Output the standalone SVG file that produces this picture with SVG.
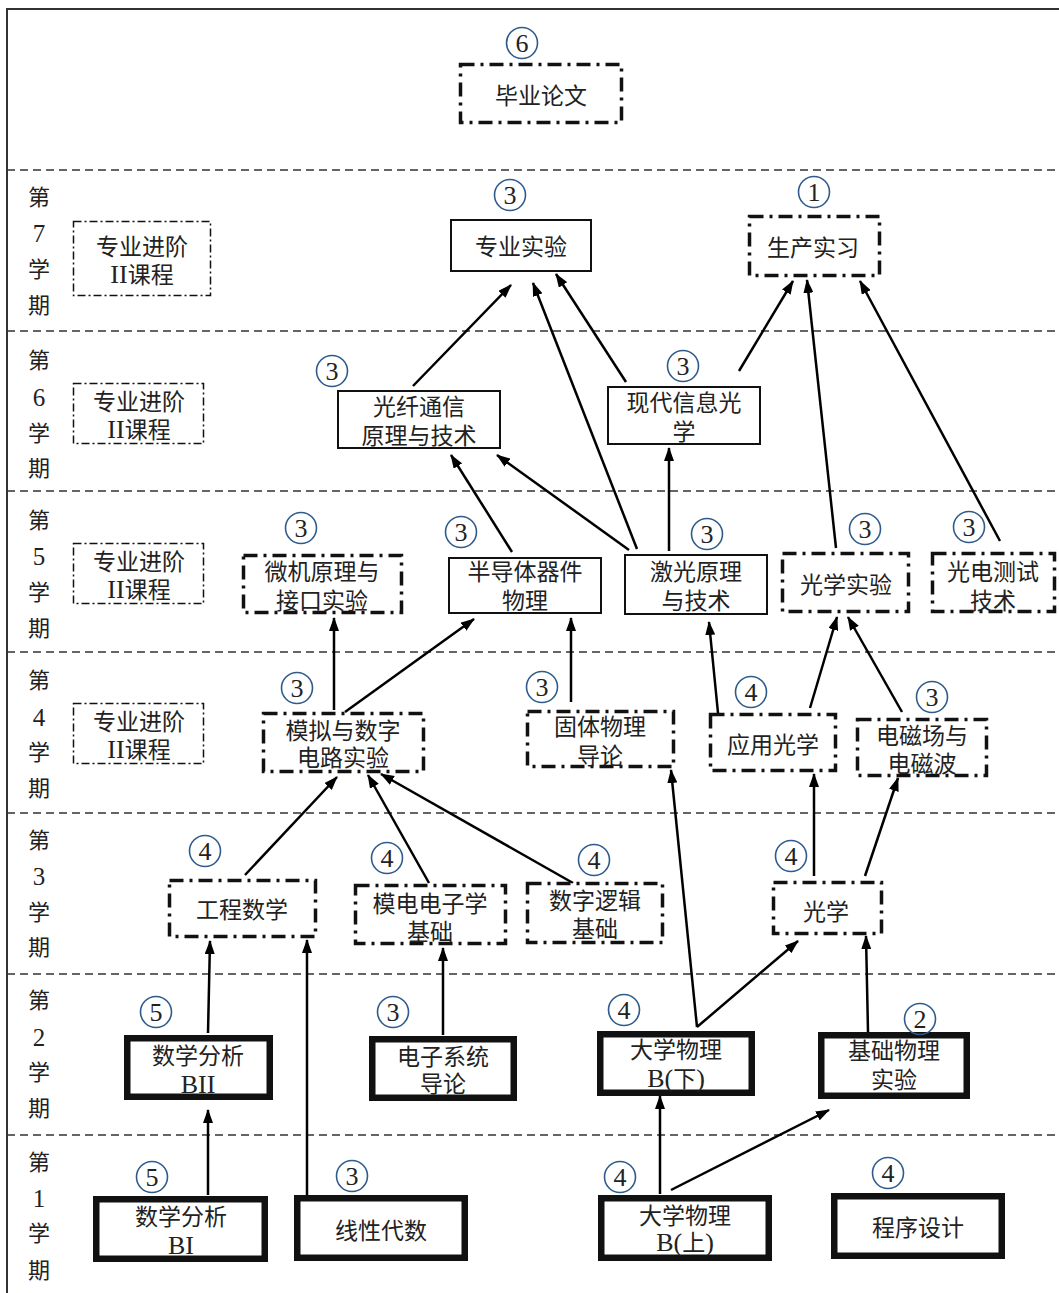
<svg xmlns="http://www.w3.org/2000/svg" width="1059" height="1293" viewBox="0 0 1059 1293">
  <style>
    .frame{stroke:#333;stroke-width:2;fill:none}
    .sep{stroke:#333;stroke-width:1.6;stroke-dasharray:8 5;fill:none}
    .box{fill:#fff;stroke:#111}
    .solid{stroke-width:2}
    .thick{stroke-width:6.5}
    .dd{stroke-width:3.5;stroke-dasharray:14 6 3 6}
    .ddthin{stroke-width:1.5;stroke-dasharray:8 3 2 3}
    text{font-family:"Liberation Serif","Noto Sans CJK SC",serif;fill:#222;text-anchor:middle}
    .lbl{font-size:23px}
    .sem{font-size:22px}
    .num{font-size:25px}
    .lat{font-size:26px}
    .badge circle{fill:none;stroke:#2e5b8c;stroke-width:1.6}
    .badge text{font-size:26px}
    .edge{stroke:#000;stroke-width:2.5;fill:none;marker-end:url(#ah)}
  </style>
  <defs>
    <marker id="ah" markerUnits="userSpaceOnUse" markerWidth="14" markerHeight="10" viewBox="0 0 14 10" refX="13" refY="5" orient="auto">
      <path d="M0,0 L14,5 L0,10 z" fill="#000"/>
    </marker>
  </defs>

  <!-- outer frame and semester bands -->
  <path class="frame" d="M7,1293 V9 H1059"/>
  <g id="separators">
    <line class="sep" x1="7" y1="170" x2="1059" y2="170"/>
    <line class="sep" x1="7" y1="331" x2="1059" y2="331"/>
    <line class="sep" x1="7" y1="491" x2="1059" y2="491"/>
    <line class="sep" x1="7" y1="652" x2="1059" y2="652"/>
    <line class="sep" x1="7" y1="813" x2="1059" y2="813"/>
    <line class="sep" x1="7" y1="974" x2="1059" y2="974"/>
    <line class="sep" x1="7" y1="1135" x2="1059" y2="1135"/>
  </g>

  <!-- semester labels -->
  <g id="semester-labels">
    <text class="sem" x="39" y="205">第</text><text class="num" x="39" y="242">7</text><text class="sem" x="39" y="277">学</text><text class="sem" x="39" y="313">期</text>
    <text class="sem" x="39" y="368">第</text><text class="num" x="39" y="406">6</text><text class="sem" x="39" y="441">学</text><text class="sem" x="39" y="476">期</text>
    <text class="sem" x="39" y="528">第</text><text class="num" x="39" y="565">5</text><text class="sem" x="39" y="600">学</text><text class="sem" x="39" y="636">期</text>
    <text class="sem" x="39" y="688">第</text><text class="num" x="39" y="726">4</text><text class="sem" x="39" y="760">学</text><text class="sem" x="39" y="796">期</text>
    <text class="sem" x="39" y="848">第</text><text class="num" x="39" y="885">3</text><text class="sem" x="39" y="920">学</text><text class="sem" x="39" y="955">期</text>
    <text class="sem" x="39" y="1008">第</text><text class="num" x="39" y="1046">2</text><text class="sem" x="39" y="1080">学</text><text class="sem" x="39" y="1116">期</text>
    <text class="sem" x="39" y="1170">第</text><text class="num" x="39" y="1207">1</text><text class="sem" x="39" y="1241">学</text><text class="sem" x="39" y="1278">期</text>
  </g>

  <!-- elective placeholders -->
  <g id="elective-7"><rect class="box ddthin" x="73.5" y="221.5" width="137" height="74"/><text class="lbl" x="142" y="255">专业进阶</text><text class="lbl" x="142" y="283"><tspan class="lat">II</tspan>课程</text></g>
  <g id="elective-6"><rect class="box ddthin" x="73.5" y="383.5" width="130" height="60"/><text class="lbl" x="139" y="410">专业进阶</text><text class="lbl" x="139" y="438"><tspan class="lat">II</tspan>课程</text></g>
  <g id="elective-5"><rect class="box ddthin" x="73.5" y="543.5" width="130" height="60"/><text class="lbl" x="139" y="570">专业进阶</text><text class="lbl" x="139" y="598"><tspan class="lat">II</tspan>课程</text></g>
  <g id="elective-4"><rect class="box ddthin" x="73.5" y="703.5" width="130" height="60"/><text class="lbl" x="139" y="730">专业进阶</text><text class="lbl" x="139" y="758"><tspan class="lat">II</tspan>课程</text></g>

  <!-- prerequisite arrows -->
  <g id="connectors">
    <line class="edge" x1="413" y1="386" x2="511" y2="285"/>
    <line class="edge" x1="637" y1="549" x2="533" y2="283"/>
    <line class="edge" x1="626" y1="382" x2="556" y2="274"/>
    <line class="edge" x1="739" y1="371" x2="793" y2="281"/>
    <line class="edge" x1="836" y1="548" x2="807" y2="280"/>
    <line class="edge" x1="1000" y1="541" x2="860" y2="281"/>
    <line class="edge" x1="512" y1="552" x2="451" y2="455"/>
    <line class="edge" x1="629" y1="550" x2="497" y2="455"/>
    <line class="edge" x1="669" y1="551" x2="669" y2="448"/>
    <line class="edge" x1="334" y1="710" x2="334" y2="618"/>
    <line class="edge" x1="345" y1="712" x2="474" y2="619"/>
    <line class="edge" x1="571" y1="702" x2="571" y2="618"/>
    <line class="edge" x1="718" y1="713" x2="709" y2="622"/>
    <line class="edge" x1="810" y1="708" x2="837" y2="617"/>
    <line class="edge" x1="902" y1="712" x2="848" y2="617"/>
    <line class="edge" x1="245" y1="875" x2="337" y2="777"/>
    <line class="edge" x1="429" y1="883" x2="368" y2="775"/>
    <line class="edge" x1="573" y1="883" x2="381" y2="774"/>
    <line class="edge" x1="697" y1="1027" x2="671" y2="770"/>
    <line class="edge" x1="697" y1="1027" x2="798" y2="941"/>
    <line class="edge" x1="814" y1="876" x2="814" y2="774"/>
    <line class="edge" x1="865" y1="876" x2="898" y2="778"/>
    <line class="edge" x1="208" y1="1033" x2="210" y2="941"/>
    <line class="edge" x1="307" y1="1195" x2="307" y2="940"/>
    <line class="edge" x1="443" y1="1035" x2="443" y2="948"/>
    <line class="edge" x1="868" y1="1032" x2="866" y2="936"/>
    <line class="edge" x1="208" y1="1195" x2="208" y2="1110"/>
    <line class="edge" x1="660" y1="1194" x2="660" y2="1096"/>
    <line class="edge" x1="671" y1="1190" x2="829" y2="1110"/>
  </g>

  <!-- thesis -->
  <g id="thesis"><rect class="box dd" x="460.5" y="64.5" width="161" height="58"/><text class="lbl" x="541" y="104">毕业论文</text>
    <g class="badge"><circle cx="522" cy="43" r="15.5"/><text x="522" y="52">6</text></g></g>

  <!-- semester 7 -->
  <g id="major-lab"><rect class="box solid" x="451" y="220" width="140" height="51"/><text class="lbl" x="521" y="255">专业实验</text>
    <g class="badge"><circle cx="510" cy="195" r="15.5"/><text x="510" y="204">3</text></g></g>
  <g id="internship"><rect class="box dd" x="749.5" y="216.5" width="130" height="59"/><text class="lbl" x="813" y="256">生产实习</text>
    <g class="badge"><circle cx="814" cy="192" r="15.5"/><text x="814" y="201">1</text></g></g>

  <!-- semester 6 -->
  <g id="modern-optics"><rect class="box solid" x="608" y="387" width="152" height="57"/><text class="lbl" x="684" y="411">现代信息光</text><text class="lbl" x="684" y="440">学</text>
    <g class="badge"><circle cx="683" cy="366" r="15.5"/><text x="683" y="375">3</text></g></g>
  <g id="fiber-comm"><rect class="box solid" x="338" y="391" width="162" height="57"/><text class="lbl" x="419" y="415">光纤通信</text><text class="lbl" x="419" y="444">原理与技术</text>
    <g class="badge"><circle cx="332" cy="371" r="15.5"/><text x="332" y="380">3</text></g></g>

  <!-- semester 5 -->
  <g id="microcomputer-lab"><rect class="box dd" x="243.5" y="555.5" width="158" height="57"/><text class="lbl" x="322" y="580">微机原理与</text><text class="lbl" x="322" y="609">接口实验</text>
    <g class="badge"><circle cx="301" cy="528" r="15.5"/><text x="301" y="537">3</text></g></g>
  <g id="semiconductor"><rect class="box solid" x="449" y="558" width="152" height="55"/><text class="lbl" x="525" y="580">半导体器件</text><text class="lbl" x="525" y="609">物理</text>
    <g class="badge"><circle cx="461" cy="532" r="15.5"/><text x="461" y="541">3</text></g></g>
  <g id="laser"><rect class="box solid" x="625" y="555" width="142" height="59"/><text class="lbl" x="696" y="580">激光原理</text><text class="lbl" x="696" y="609">与技术</text>
    <g class="badge"><circle cx="707" cy="534" r="15.5"/><text x="707" y="543">3</text></g></g>
  <g id="optics-lab"><rect class="box dd" x="782.5" y="553.5" width="126" height="58"/><text class="lbl" x="846" y="593">光学实验</text>
    <g class="badge"><circle cx="865" cy="529" r="15.5"/><text x="865" y="538">3</text></g></g>
  <g id="optoelectronic-test"><rect class="box dd" x="932.5" y="553.5" width="122" height="58"/><text class="lbl" x="993" y="580">光电测试</text><text class="lbl" x="993" y="609">技术</text>
    <g class="badge"><circle cx="969" cy="527" r="15.5"/><text x="969" y="536">3</text></g></g>

  <!-- semester 4 -->
  <g id="circuit-lab"><rect class="box dd" x="263.5" y="713.5" width="160" height="58"/><text class="lbl" x="343" y="739">模拟与数字</text><text class="lbl" x="343" y="766">电路实验</text>
    <g class="badge"><circle cx="297" cy="688" r="15.5"/><text x="297" y="697">3</text></g></g>
  <g id="solid-state"><rect class="box dd" x="527.5" y="711.5" width="146" height="55"/><text class="lbl" x="600" y="735">固体物理</text><text class="lbl" x="600" y="764">导论</text>
    <g class="badge"><circle cx="542" cy="687" r="15.5"/><text x="542" y="696">3</text></g></g>
  <g id="applied-optics"><rect class="box dd" x="710.5" y="714.5" width="125" height="56"/><text class="lbl" x="773" y="753">应用光学</text>
    <g class="badge"><circle cx="751" cy="692" r="15.5"/><text x="751" y="701">4</text></g></g>
  <g id="em-fields"><rect class="box dd" x="857.5" y="719.5" width="129" height="56"/><text class="lbl" x="922" y="744">电磁场与</text><text class="lbl" x="922" y="772">电磁波</text>
    <g class="badge"><circle cx="932" cy="697" r="15.5"/><text x="932" y="706">3</text></g></g>

  <!-- semester 3 -->
  <g id="eng-math"><rect class="box dd" x="169.5" y="880.5" width="146" height="56"/><text class="lbl" x="242" y="918">工程数学</text>
    <g class="badge"><circle cx="205" cy="851" r="15.5"/><text x="205" y="860">4</text></g></g>
  <g id="analog-electronics"><rect class="box dd" x="355.5" y="885.5" width="150" height="58"/><text class="lbl" x="430" y="912">模电电子学</text><text class="lbl" x="430" y="940">基础</text>
    <g class="badge"><circle cx="387" cy="858" r="15.5"/><text x="387" y="867">4</text></g></g>
  <g id="digital-logic"><rect class="box dd" x="527.5" y="883.5" width="135" height="59"/><text class="lbl" x="595" y="909">数字逻辑</text><text class="lbl" x="595" y="937">基础</text>
    <g class="badge"><circle cx="594" cy="860" r="15.5"/><text x="594" y="869">4</text></g></g>
  <g id="optics"><rect class="box dd" x="773.5" y="882.5" width="108" height="51"/><text class="lbl" x="826" y="920">光学</text>
    <g class="badge"><circle cx="791" cy="856" r="15.5"/><text x="791" y="865">4</text></g></g>

  <!-- semester 2 -->
  <g id="analysis-2"><rect class="box thick" x="127.25" y="1038.25" width="142.5" height="58.5"/><text class="lbl" x="198" y="1064">数学分析</text><text class="lbl lat" x="198" y="1093">BII</text>
    <g class="badge"><circle cx="156" cy="1012" r="15.5"/><text x="156" y="1021">5</text></g></g>
  <g id="electronic-systems"><rect class="box thick" x="372.25" y="1039.25" width="141.5" height="58.5"/><text class="lbl" x="443" y="1065">电子系统</text><text class="lbl" x="443" y="1092">导论</text>
    <g class="badge"><circle cx="393" cy="1012" r="15.5"/><text x="393" y="1021">3</text></g></g>
  <g id="physics-2"><rect class="box thick" x="600.25" y="1034.25" width="151.5" height="58.5"/><text class="lbl" x="676" y="1058">大学物理</text><text class="lbl" x="676" y="1087"><tspan class="lat">B(</tspan>下<tspan class="lat">)</tspan></text>
    <g class="badge"><circle cx="624" cy="1010" r="15.5"/><text x="624" y="1019">4</text></g></g>
  <g id="physics-lab"><rect class="box thick" x="821.25" y="1035.25" width="145.5" height="60.5"/><text class="lbl" x="894" y="1059">基础物理</text><text class="lbl" x="894" y="1088">实验</text>
    <g class="badge"><circle cx="920" cy="1019" r="15.5"/><text x="920" y="1028">2</text></g></g>

  <!-- semester 1 -->
  <g id="analysis-1"><rect class="box thick" x="96.25" y="1199.25" width="168.5" height="59.5"/><text class="lbl" x="181" y="1225">数学分析</text><text class="lbl lat" x="181" y="1254">BI</text>
    <g class="badge"><circle cx="152" cy="1177" r="15.5"/><text x="152" y="1186">5</text></g></g>
  <g id="linear-algebra"><rect class="box thick" x="297.25" y="1198.25" width="167.5" height="59.5"/><text class="lbl" x="381" y="1239">线性代数</text>
    <g class="badge"><circle cx="352" cy="1176" r="15.5"/><text x="352" y="1185">3</text></g></g>
  <g id="physics-1"><rect class="box thick" x="601.25" y="1198.25" width="167.5" height="59.5"/><text class="lbl" x="685" y="1224">大学物理</text><text class="lbl" x="685" y="1251"><tspan class="lat">B(</tspan>上<tspan class="lat">)</tspan></text>
    <g class="badge"><circle cx="620" cy="1177" r="15.5"/><text x="620" y="1186">4</text></g></g>
  <g id="programming"><rect class="box thick" x="834.25" y="1196.25" width="167.5" height="59.5"/><text class="lbl" x="918" y="1236">程序设计</text>
    <g class="badge"><circle cx="888" cy="1173" r="15.5"/><text x="888" y="1182">4</text></g></g>
</svg>
